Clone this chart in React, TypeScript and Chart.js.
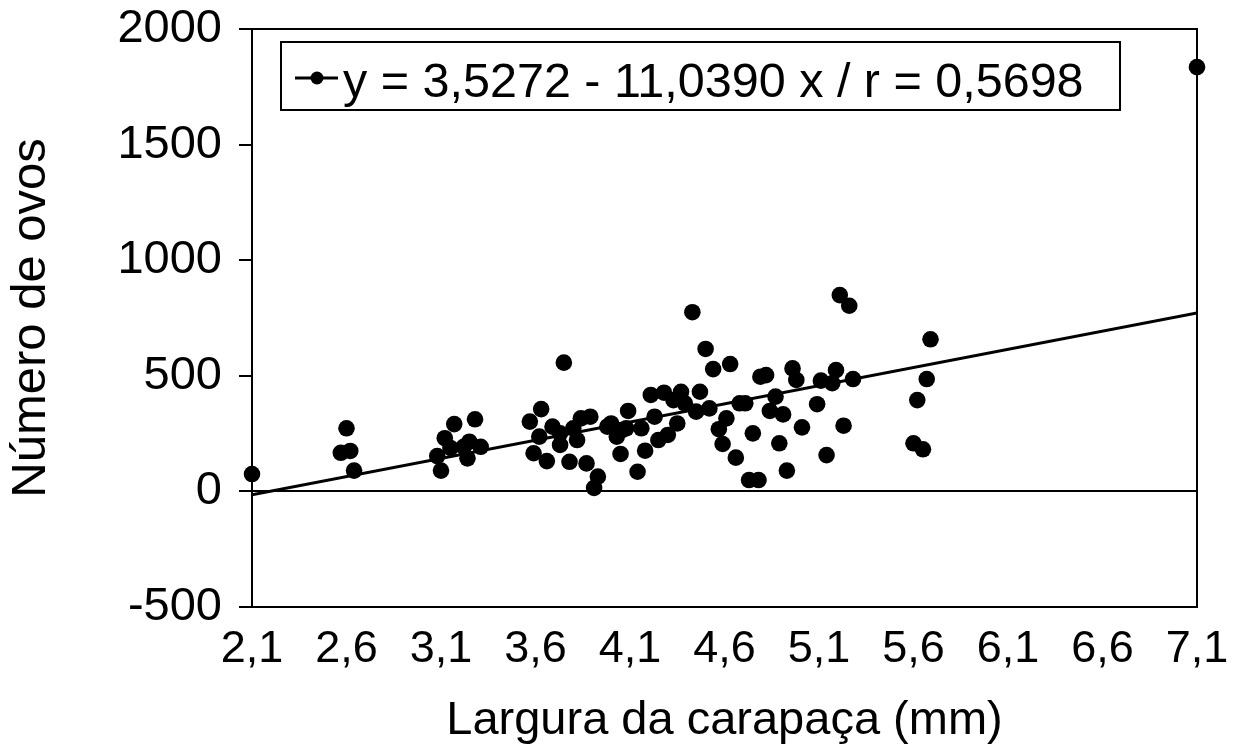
import React, { useEffect, useRef } from 'react';
import { Chart, registerables } from 'chart.js';

Chart.register(...registerables);

// Largura da carapaça (mm)
const carapaceWidth = [
  2.10, 2.57, 2.60, 2.62, 2.64,
  3.08, 3.10, 3.12, 3.15, 3.17, 3.22, 3.24, 3.25, 3.28, 3.31,
  3.57, 3.59, 3.62, 3.63, 3.66, 3.69, 3.73, 3.73, 3.75, 3.78, 3.80, 3.82, 3.84, 3.87, 3.89, 3.91, 3.93, 3.98,
  4.00, 4.03, 4.05, 4.06, 4.08, 4.09, 4.14, 4.16, 4.18, 4.21, 4.23, 4.25, 4.28, 4.30, 4.33, 4.35, 4.37, 4.39,
  4.43, 4.45, 4.47, 4.50, 4.52, 4.54, 4.57, 4.59, 4.61, 4.63, 4.66, 4.68, 4.71, 4.73, 4.75, 4.78, 4.79, 4.82,
  4.84, 4.87, 4.89, 4.91, 4.93, 4.96, 4.98, 5.01, 5.09, 5.11, 5.14, 5.17, 5.19, 5.21, 5.23, 5.26, 5.28,
  5.60, 5.62, 5.65, 5.67, 5.69,
  7.10,
];

// Número de ovos
const eggCount = [
  75, 167, 273, 175, 90,
  153, 90, 230, 188, 291, 193, 143, 215, 312, 193,
  302, 165, 237, 356, 131, 280, 251, 201, 557, 128, 273, 222, 316, 121, 323, 15, 64, 280,
  294, 237, 162, 266, 273, 348, 85, 273, 176, 417, 323, 222, 427, 244, 395, 294, 431, 381,
  775, 345, 431, 616, 359, 529, 269, 205, 316, 551, 146, 381, 381, 49, 251, 49, 496, 503,
  348, 410, 208, 333, 90, 532, 482, 277, 377, 479, 157, 468, 525, 849, 284, 803, 486,
  208, 395, 182, 486, 658,
  1835,
];

// Regression line end points
const trendX = [2.1, 7.1];
const trendY = [-15, 772];

const xTickValues = [2.1, 2.6, 3.1, 3.6, 4.1, 4.6, 5.1, 5.6, 6.1, 6.6, 7.1];
const xTickLabels = ['2,1', '2,6', '3,1', '3,6', '4,1', '4,6', '5,1', '5,6', '6,1', '6,6', '7,1'];
const yTickValues = [-500, 0, 500, 1000, 1500, 2000];
const yTickLabels = ['-500', '0', '500', '1000', '1500', '2000'];

const legendText = 'y = 3,5272 - 11,0390 x / r = 0,5698';
const xTitle = 'Largura da carapaça (mm)';
const yTitle = 'Número de ovos';

const FONT = '"Liberation Sans", Arial, sans-serif';

const framePlugin = {
  id: 'frame',
  beforeDatasetsDraw(chart: any) {
    const { ctx, chartArea } = chart;
    ctx.save();
    ctx.strokeStyle = '#000';
    ctx.lineWidth = 2;
    ctx.strokeRect(chartArea.left, chartArea.top, chartArea.right - chartArea.left, chartArea.bottom - chartArea.top);
    ctx.restore();
  },
};

const legendPlugin = {
  id: 'legendBox',
  afterDraw(chart: any) {
    const { ctx } = chart;
    const bx = 281, by = 42, bw = 839, bh = 68;
    ctx.save();
    ctx.fillStyle = '#fff';
    ctx.fillRect(bx, by, bw, bh);
    ctx.strokeStyle = '#000';
    ctx.lineWidth = 2;
    ctx.strokeRect(bx, by, bw, bh);
    ctx.beginPath();
    ctx.lineWidth = 3;
    ctx.moveTo(295, 78);
    ctx.lineTo(338, 78);
    ctx.stroke();
    ctx.fillStyle = '#000';
    ctx.beginPath();
    ctx.arc(317, 78, 6.5, 0, Math.PI * 2);
    ctx.fill();
    ctx.font = `48.5px ${FONT}`;
    ctx.textBaseline = 'alphabetic';
    ctx.textAlign = 'left';
    ctx.fillText(legendText, 343, 97);
    ctx.restore();
  },
};

export default function App() {
  const canvasRef = useRef<HTMLCanvasElement | null>(null);

  useEffect(() => {
    document.body.style.margin = '0';
    const canvas = canvasRef.current;
    if (!canvas) return;

    const points = carapaceWidth.map((x, i) => ({ x, y: eggCount[i] }));
    const trend = trendX.map((x, i) => ({ x, y: trendY[i] }));

    const chart = new Chart(canvas, {
      type: 'scatter',
      data: {
        datasets: [
          {
            type: 'line',
            data: trend,
            borderColor: '#000',
            borderWidth: 3,
            pointRadius: 0,
            fill: false,
            tension: 0,
            order: 2,
          } as any,
          {
            type: 'scatter',
            data: points,
            backgroundColor: '#000',
            borderColor: '#000',
            borderWidth: 0,
            pointRadius: 8.3,
            pointHoverRadius: 8.3,
            clip: false,
            order: 1,
          } as any,
        ],
      },
      options: {
        responsive: false,
        animation: false,
        events: [],
        layout: { padding: { top: 29, right: 39, left: 0, bottom: 0 } },
        plugins: {
          legend: { display: false },
          tooltip: { enabled: false },
        },
        scales: {
          x: {
            type: 'linear',
            min: 2.1,
            max: 7.1,
            afterBuildTicks: (scale: any) => {
              scale.ticks = xTickValues.map((v) => ({ value: v }));
            },
            afterFit: (scale: any) => {
              scale.height = 144;
              scale.paddingLeft = 0;
              scale.paddingRight = 0;
            },
            ticks: {
              callback: (_v: any, i: number) => xTickLabels[i],
              color: '#000',
              font: { family: FONT, size: 45 },
              padding: 16,
              maxRotation: 0,
              autoSkip: false,
            },
            grid: { display: false, drawTicks: false },
            border: { display: true, color: '#000', width: 2 },
            title: {
              display: true,
              text: xTitle,
              color: '#000',
              font: { family: FONT, size: 47 },
              padding: { top: 0, bottom: 2 },
            },
          },
          y: {
            type: 'linear',
            min: -500,
            max: 2000,
            afterBuildTicks: (scale: any) => {
              scale.ticks = yTickValues.map((v) => ({ value: v }));
            },
            afterFit: (scale: any) => {
              scale.width = 252;
              scale.paddingTop = 0;
              scale.paddingBottom = 0;
            },
            ticks: {
              callback: (_v: any, i: number) => yTickLabels[i],
              color: '#000',
              font: { family: FONT, size: 47 },
              padding: 17,
              autoSkip: false,
            },
            grid: {
              display: true,
              drawOnChartArea: true,
              drawTicks: true,
              tickLength: 13,
              tickWidth: 2,
              tickColor: '#000',
              lineWidth: 2,
              color: (ctx: any) => (ctx.tick && ctx.tick.value === 0 ? '#000' : 'rgba(0,0,0,0)'),
            },
            border: { display: true, color: '#000', width: 2 },
            title: {
              display: true,
              text: yTitle,
              color: '#000',
              font: { family: FONT, size: 49 },
              padding: { top: 2, bottom: 0 },
            },
          },
        },
      },
      plugins: [framePlugin, legendPlugin],
    });

    return () => {
      chart.destroy();
    };
  }, []);

  return (
    <div style={{ width: 1236, height: 751, background: '#fff' }}>
      <canvas ref={canvasRef} width={1236} height={751} style={{ display: 'block' }} />
    </div>
  );
}
